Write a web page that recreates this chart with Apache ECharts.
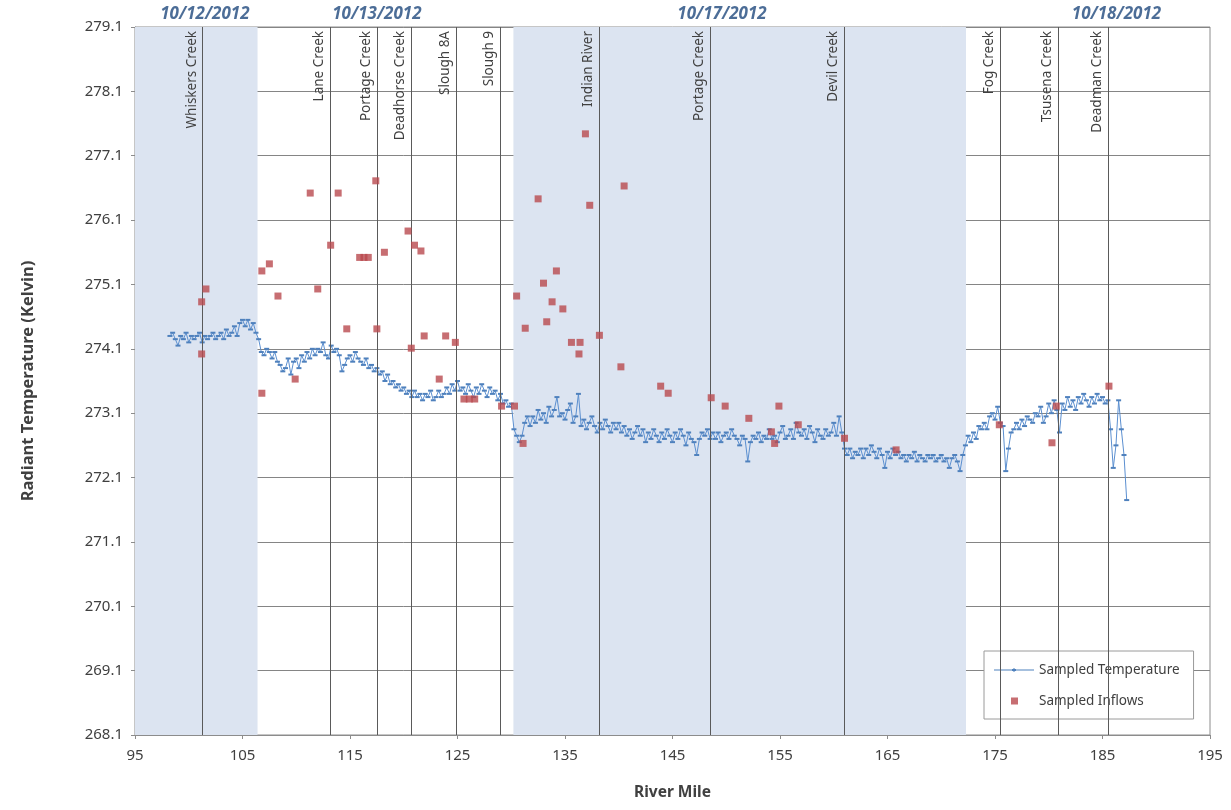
<!DOCTYPE html>
<html>
<head>
<meta charset="utf-8">
<script src="https://cdn.jsdelivr.net/npm/echarts@6/dist/echarts.min.js"></script>
<style>
  html, body { margin: 0; padding: 0; background: #fff; }
  #chart { width: 1231px; height: 810px; }
</style>
</head>
<body>
<div id="chart"></div>
<script>
// sampled radiant temperature along the river, one reading every 0.25 mile from mile 98.25
const tempStartMile = 98.25
const tempStepMile = 0.25
const tempValues = [
  274.30, 274.35, 274.25,
  274.15, 274.30, 274.25, 274.35, // 99
  274.20, 274.30, 274.25, 274.30, // 100
  274.35, 274.20, 274.30, 274.25, // 101
  274.30, 274.35, 274.25, 274.30, // 102
  274.35, 274.25, 274.40, 274.30, // 103
  274.35, 274.45, 274.30, 274.50, // 104
  274.55, 274.45, 274.55, 274.40, // 105
  274.50, 274.35, 274.25, 274.05, // 106
  274.00, 274.10, 274.05, 273.95, // 107
  274.05, 273.90, 273.85, 273.75, // 108
  273.80, 273.95, 273.70, 273.90, // 109
  273.95, 273.80, 274.00, 273.90, // 110
  274.05, 273.95, 274.10, 274.00, // 111
  274.10, 274.05, 274.20, 274.00, // 112
  273.95, 274.15, 274.05, 274.10, // 113
  274.00, 273.75, 273.85, 273.95, // 114
  274.00, 273.90, 274.05, 273.95, // 115
  273.90, 273.85, 273.95, 273.80, // 116
  273.85, 273.75, 273.80, 273.70, // 117
  273.75, 273.60, 273.70, 273.55, // 118
  273.60, 273.50, 273.55, 273.45, // 119
  273.50, 273.40, 273.45, 273.35, // 120
  273.45, 273.35, 273.40, 273.30, // 121
  273.40, 273.35, 273.45, 273.30, // 122
  273.35, 273.45, 273.35, 273.40, // 123
  273.50, 273.40, 273.55, 273.45, // 124
  273.60, 273.45, 273.50, 273.40, // 125
  273.55, 273.45, 273.35, 273.50, // 126
  273.40, 273.55, 273.45, 273.35, // 127
  273.50, 273.40, 273.45, 273.30, // 128
  273.40, 273.25, 273.30, 273.20, // 129
  273.25, 272.85, 272.75, 272.65, // 130
  272.75, 272.95, 273.05, 272.90, // 131
  273.05, 272.95, 273.15, 273.00, // 132
  273.10, 272.95, 273.20, 273.05, // 133
  273.15, 273.35, 273.05, 273.10, // 134
  273.00, 273.15, 273.25, 272.95, // 135
  273.05, 273.40, 272.90, 273.00, // 136
  272.85, 272.95, 273.05, 272.90, // 137
  272.80, 272.95, 272.85, 273.00, // 138
  272.90, 272.80, 272.95, 272.85, // 139
  272.95, 272.80, 272.90, 272.75, // 140
  272.85, 272.70, 272.80, 272.90, // 141
  272.75, 272.85, 272.65, 272.80, // 142
  272.70, 272.85, 272.75, 272.65, // 143
  272.80, 272.70, 272.85, 272.75, // 144
  272.65, 272.80, 272.70, 272.85, // 145
  272.75, 272.60, 272.80, 272.70, // 146
  272.65, 272.45, 272.70, 272.80, // 147
  272.75, 272.85, 272.70, 272.80, // 148
  272.70, 272.80, 272.65, 272.75, // 149
  272.80, 272.70, 272.85, 272.75, // 150
  272.70, 272.60, 272.75, 272.70, // 151
  272.35, 272.65, 272.75, 272.70, // 152
  272.80, 272.65, 272.75, 272.70, // 153
  272.85, 272.70, 272.75, 272.65, // 154
  272.80, 272.90, 272.70, 272.75, // 155
  272.85, 272.70, 272.95, 272.80, // 156
  272.75, 272.85, 272.70, 272.90, // 157
  272.80, 272.65, 272.85, 272.75, // 158
  272.70, 272.85, 272.75, 272.80, // 159
  272.95, 272.75, 273.05, 272.80, // 160
  272.55, 272.45, 272.55, 272.40, // 161
  272.50, 272.45, 272.55, 272.40, // 162
  272.55, 272.45, 272.60, 272.50, // 163
  272.40, 272.55, 272.45, 272.25, // 164
  272.50, 272.40, 272.55, 272.45, // 165
  272.50, 272.40, 272.45, 272.35, // 166
  272.45, 272.40, 272.50, 272.35, // 167
  272.45, 272.40, 272.35, 272.45, // 168
  272.40, 272.45, 272.35, 272.40, // 169
  272.45, 272.35, 272.40, 272.25, // 170
  272.40, 272.45, 272.35, 272.20, // 171
  272.45, 272.60, 272.75, 272.65, // 172
  272.80, 272.70, 272.90, 272.85, // 173
  272.95, 272.85, 273.05, 273.10, // 174
  273.00, 273.20, 272.95, 272.90, // 175
  272.20, 272.55, 272.80, 272.85, // 176
  272.95, 272.85, 273.00, 272.90, // 177
  273.05, 273.00, 272.95, 273.10, // 178
  273.05, 273.20, 272.95, 273.05, // 179
  273.25, 273.10, 273.30, 273.15, // 180
  272.80, 273.25, 273.15, 273.35, // 181
  273.20, 273.30, 273.15, 273.35, // 182
  273.25, 273.40, 273.30, 273.20, // 183
  273.35, 273.25, 273.40, 273.30, // 184
  273.35, 273.25, 273.30, 272.85, // 185
  272.25, 272.60, 273.30, 272.85, // 186
  272.45, 271.75                  // 187
]

// sampled inflows
const inflowMiles = [
  101.2, 101.6, 101.2, 106.8, 107.5, 106.8, 108.3, 109.9, 111.3, 112.0,
  113.2, 113.9, 114.7, 115.9, 116.3, 116.7, 117.4, 117.5, 118.2, 120.4,
  121.0, 121.6, 120.7, 121.9, 123.3, 123.9, 124.8, 125.6, 126.1, 126.6,
  129.1, 130.3, 130.5, 131.1, 131.3, 132.5, 133.0, 133.3, 133.8, 134.2,
  134.8, 135.6, 136.4, 136.3, 136.9, 137.3, 138.2, 140.2, 140.5, 143.9,
  144.6, 148.6, 149.9, 152.1, 154.2, 154.5, 154.9, 156.7, 161.0, 165.8,
  175.4, 180.3, 180.7, 185.6
]
const inflowTemps = [
  274.83, 275.03, 274.02, 275.31, 275.42, 273.41, 274.92, 273.63, 276.52, 275.03,
  275.71, 276.52, 274.41, 275.52, 275.52, 275.52, 276.71, 274.41, 275.60, 275.93,
  275.71, 275.62, 274.11, 274.30, 273.63, 274.30, 274.20, 273.32, 273.32, 273.32,
  273.21, 273.21, 274.92, 272.63, 274.42, 276.43, 275.12, 274.52, 274.83, 275.31,
  274.72, 274.20, 274.20, 274.02, 277.44, 276.33, 274.31, 273.82, 276.63, 273.52,
  273.41, 273.34, 273.21, 273.02, 272.81, 272.63, 273.21, 272.92, 272.71, 272.53,
  272.92, 272.64, 273.21, 273.52
]

// tributaries (river mile)
const creekNames = [
  'Whiskers Creek', 'Lane Creek', 'Portage Creek', 'Deadhorse Creek', 'Slough 8A', 'Slough 9',
  'Indian River', 'Portage Creek', 'Devil Creek', 'Fog Creek', 'Tsusena Creek', 'Deadman Creek'
]
const creekMiles = [101.3, 113.2, 117.5, 120.7, 124.9, 129.0, 138.2, 148.5, 161.0, 175.5, 180.9, 185.5]

// survey dates and shaded flight days
const dateLabels = ['10/12/2012', '10/13/2012', '10/17/2012', '10/18/2012']
const dateMiles = [101.5, 117.5, 149.6, 186.3]
const shadedRanges = [[95, 106.4], [130.2, 172.3]]

const xTicks = [95, 105, 115, 125, 135, 145, 155, 165, 175, 185, 195]

const FONT = 'Noto Sans'
const tempData = tempValues.map((v, i) => [tempStartMile + i * tempStepMile, v])
const inflowData = inflowMiles.map((m, i) => [m, inflowTemps[i]])

// legend icons in a 40x14 box: line with a small tick mark / a small square
const lineIcon = 'path://M0,0M40,14M0,6.5h40v1h-40zM18,6h4v2h-4zM19.5,5h1v4h-1z'
const squareIcon = 'path://M0,0M40,14M17,3.5h7v7h-7z'

const chart = echarts.init(document.getElementById('chart'))
chart.setOption({
  animation: false,
  textStyle: { fontFamily: FONT },
  grid: {
    left: 135, right: 21, top: 27, bottom: 75,
    show: true, borderColor: '#8c8c8c', borderWidth: 1, backgroundColor: 'transparent'
  },
  legend: {
    orient: 'vertical',
    left: 984, top: 651,
    backgroundColor: '#fff',
    borderColor: '#9a9a9a', borderWidth: 1,
    padding: [12, 14, 11, 10],
    itemGap: 17,
    itemWidth: 40,
    itemHeight: 14,
    textStyle: { fontFamily: FONT, fontSize: 13.5, color: '#404040' },
    data: [
      { name: 'Sampled Temperature', icon: lineIcon, itemStyle: { color: '#4f81bd' } },
      { name: 'Sampled Inflows', icon: squareIcon, itemStyle: { color: '#b94a4f' } }
    ]
  },
  xAxis: {
    type: 'value',
    min: 95, max: 195, interval: 10,
    name: 'River Mile', nameLocation: 'middle', nameGap: 50,
    nameTextStyle: { fontFamily: FONT, fontSize: 15.5, fontWeight: 'bold', color: '#404040' },
    axisLine: { lineStyle: { color: '#8c8c8c' } },
    axisTick: { show: true, length: 4, lineStyle: { color: '#8c8c8c' } },
    axisLabel: {
      fontSize: 15, color: '#404040', margin: 13,
      customValues: xTicks
    },
    splitLine: { show: false }
  },
  yAxis: {
    type: 'value',
    min: 268.1, max: 279.1, interval: 1,
    name: 'Radiant Temperature (Kelvin)', nameLocation: 'middle', nameGap: 98,
    nameTextStyle: { fontFamily: FONT, fontSize: 16.5, fontWeight: 'bold', color: '#404040' },
    axisLine: { show: true, lineStyle: { color: '#8c8c8c' } },
    axisTick: { show: true, length: 4, lineStyle: { color: '#8c8c8c' } },
    axisLabel: { fontSize: 15, color: '#404040', margin: 12, formatter: v => v.toFixed(1) },
    splitLine: { show: true, lineStyle: { color: '#858585', width: 1 } }
  },
  series: [
    {
      // shaded survey days, below the grid lines
      name: 'shade',
      type: 'line',
      data: [],
      z: -1,
      silent: true,
      markArea: {
        silent: true,
        itemStyle: { color: '#dce4f1' },
        data: shadedRanges.map(r => [{ xAxis: r[0] }, { xAxis: r[1] }])
      }
    },
    {
      name: 'creeks',
      type: 'line',
      data: [],
      z: 3,
      silent: true,
      markLine: {
        silent: true,
        symbol: ['none', 'none'],
        lineStyle: { color: '#5a5a5a', width: 1, type: 'solid' },
        label: {
          show: true,
          position: 'insideEndTop',
          formatter: '{b}',
          fontFamily: FONT,
          fontSize: 13.5,
          color: '#404040',
          distance: 4
        },
        data: creekMiles.map((m, i) => ({ xAxis: m, name: creekNames[i] }))
      }
    },
    {
      name: 'Sampled Temperature',
      type: 'line',
      data: tempData,
      z: 4,
      symbol: 'rect',
      symbolSize: [5, 2],
      showSymbol: true,
      lineStyle: { color: '#5b8fd0', width: 1 },
      itemStyle: { color: '#4f81bd' }
    },
    {
      name: 'Sampled Inflows',
      type: 'scatter',
      data: inflowData,
      z: 5,
      symbol: 'rect',
      symbolSize: 7,
      itemStyle: { color: '#b94a4f' }
    },
    {
      name: 'dates',
      type: 'scatter',
      data: dateMiles.map((m, i) => [m, 279.1, dateLabels[i]]),
      symbolSize: 0,
      clip: false,
      silent: true,
      label: {
        show: true,
        position: 'top',
        distance: 4,
        formatter: p => p.value[2],
        fontFamily: FONT,
        fontSize: 17,
        fontWeight: 'bold',
        fontStyle: 'italic',
        color: '#1f497d'
      }
    }
  ]
})
</script>
</body>
</html>
